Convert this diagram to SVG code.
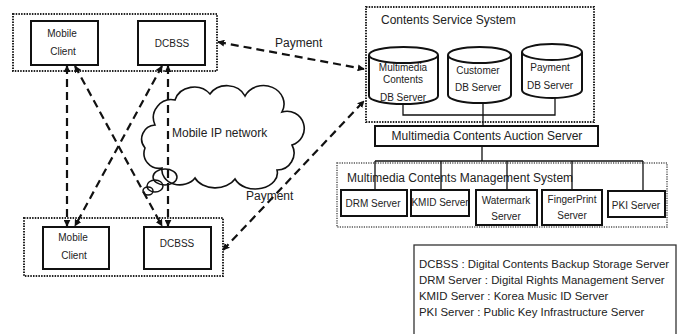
<svg xmlns="http://www.w3.org/2000/svg" width="683" height="334" viewBox="0 0 683 334">
<defs>
<style>
text{font-family:"Liberation Sans",Arial,sans-serif;fill:#222}
.box{fill:#fff;stroke:#111;stroke-width:2}
.grp{fill:none;stroke:#222;stroke-width:2;stroke-dasharray:1.5 1.2}
.grp2{fill:none;stroke:#555;stroke-width:1.5;stroke-dasharray:1.2 1.2}
.dash{fill:none;stroke:#111;stroke-width:2.2;stroke-dasharray:8 5}
.ln{fill:none;stroke:#111;stroke-width:1.3}
.s10{font-size:10px}
.s12{font-size:12px}
.s11{font-size:11.4px}
.mid{text-anchor:middle}
</style>
<marker id="ah" viewBox="0 0 10 10" refX="9" refY="5" markerWidth="7" markerHeight="7" markerUnits="userSpaceOnUse" orient="auto-start-reverse">
<path d="M0,0 L10,5 L0,10 Z" fill="#111"/>
</marker>
</defs>
<rect width="683" height="334" fill="#fff"/>

<g id="cloud">
<path d="M155,125 A18,18 0 0 1 175,100 A20,18 0 0 1 210,94 A20,18 0 0 1 245,96 A20,18 0 0 1 282,112 A17,17 0 0 1 292,145 A17,17 0 0 1 277,170 A22,16 0 0 1 235,179 A22,16 0 0 1 195,178 A18,15 0 0 1 162,168 A15,15 0 0 1 145,148 A14,14 0 0 1 155,125 Z" fill="#fff" stroke="#111" stroke-width="1.6"/>
<ellipse cx="165" cy="177" rx="12" ry="8" fill="none" stroke="#111" stroke-width="1.5"/>
<ellipse cx="155" cy="186" rx="8" ry="6" fill="none" stroke="#111" stroke-width="1.5"/>
<ellipse cx="148" cy="191" rx="5" ry="4" fill="none" stroke="#111" stroke-width="1.5"/>
<text class="s12" x="172" y="137">Mobile IP network</text>
</g>

<g id="top-group">
<rect class="grp" x="13" y="14" width="204" height="57"/>
<g id="mobile-client-top">
<rect class="box" x="31" y="21" width="67" height="44"/>
<text class="s10 mid" x="62" y="37">Mobile</text>
<text class="s10 mid" x="63" y="55">Client</text>
</g>
<g id="dcbss-top">
<rect class="box" x="138" y="21" width="67" height="44"/>
<text class="s10 mid" x="172" y="47">DCBSS</text>
</g>
</g>

<g id="bottom-group">
<rect class="grp" x="24" y="218" width="199" height="58"/>
<g id="mobile-client-bottom">
<rect class="box" x="43" y="227" width="66" height="42"/>
<text class="s10 mid" x="73" y="241">Mobile</text>
<text class="s10 mid" x="74" y="259">Client</text>
</g>
<g id="dcbss-bottom">
<rect class="box" x="144" y="227" width="67" height="42"/>
<text class="s10 mid" x="177" y="247">DCBSS</text>
</g>
</g>

<g id="contents-service-system">
<rect class="grp" x="366" y="7" width="228" height="115"/>
<text class="s12" x="381" y="24">Contents Service System</text>
<g id="mm-db">
<path d="M369,55 L369,96 A34.5,8 0 0 0 438,96 L438,55" fill="#fff" stroke="#111" stroke-width="2"/>
<ellipse cx="403.5" cy="55" rx="34.5" ry="8" fill="#fff" stroke="#111" stroke-width="2"/>
<text class="s10 mid" x="403" y="71">Multimedia</text>
<text class="s10 mid" x="403" y="83">Contents</text>
<text class="s10 mid" x="403" y="101">DB Server</text>
</g>
<g id="customer-db">
<path d="M448,55 L448,95 A31.5,8 0 0 0 511,95 L511,55" fill="#fff" stroke="#111" stroke-width="2"/>
<ellipse cx="479.5" cy="55" rx="31.5" ry="8" fill="#fff" stroke="#111" stroke-width="2"/>
<text class="s10 mid" x="478" y="74">Customer</text>
<text class="s10 mid" x="478" y="91">DB Server</text>
</g>
<g id="payment-db">
<path d="M522,52 L522,90 A30,8 0 0 0 582,90 L582,52" fill="#fff" stroke="#111" stroke-width="2"/>
<ellipse cx="552" cy="52" rx="30" ry="8" fill="#fff" stroke="#111" stroke-width="2"/>
<text class="s10 mid" x="550" y="71">Payment</text>
<text class="s10 mid" x="550" y="89">DB Server</text>
</g>
</g>

<g id="auction-server">
<rect class="box" x="375" y="126" width="223" height="20"/>
<text class="s12 mid" x="487" y="140">Multimedia Contents Auction Server</text>
</g>

<g id="management-system">
<rect class="grp2" x="337" y="163" width="330" height="64"/>
<text class="s12" x="347" y="182" fill="#333">Multimedia Contents Management System</text>
</g>

<g id="connectors">
<path class="ln" d="M403,104 V115 H555 V98 M483,103 V126 M482,146 V161 M375,161 H643 M375,161 V190 M441,161 V190 M507,161 V190 M572,161 V190 M643,161 V191"/>
<line class="dash" x1="67" y1="66" x2="67" y2="226" marker-start="url(#ah)" marker-end="url(#ah)"/>
<line class="dash" x1="168" y1="66" x2="168" y2="226" marker-start="url(#ah)" marker-end="url(#ah)"/>
<line class="dash" x1="75" y1="66" x2="162" y2="226" marker-start="url(#ah)" marker-end="url(#ah)"/>
<line class="dash" x1="162" y1="66" x2="75" y2="226" marker-start="url(#ah)" marker-end="url(#ah)"/>
<line class="dash" x1="218" y1="42" x2="364" y2="69" marker-start="url(#ah)" marker-end="url(#ah)"/>
<line class="dash" x1="223" y1="250" x2="364" y2="101" marker-start="url(#ah)" marker-end="url(#ah)"/>
<text class="s12" x="275" y="47" fill="#333">Payment</text>
<text class="s12" x="246" y="200" fill="#444">Payment</text>
</g>

<g id="drm-server">
<rect class="box" x="341" y="190" width="66" height="26"/>
<text class="s10 mid" x="373" y="207">DRM Server</text>
</g>
<g id="kmid-server">
<rect class="box" x="411" y="190" width="58" height="26"/>
<text class="s10 mid" x="440" y="206">KMID Server</text>
</g>
<g id="watermark-server">
<rect class="box" x="476" y="190" width="61" height="35"/>
<text class="s10 mid" x="506" y="204">Watermark</text>
<text class="s10 mid" x="506" y="220">Server</text>
</g>
<g id="fingerprint-server">
<rect class="box" x="542" y="190" width="60" height="35"/>
<text class="s10 mid" x="572" y="203">FingerPrint</text>
<text class="s10 mid" x="572" y="219">Server</text>
</g>
<g id="pki-server">
<rect class="box" x="608" y="191" width="57" height="26"/>
<text class="s10 mid" x="636" y="209">PKI Server</text>
</g>

<g id="legend">
<rect x="414" y="245" width="262" height="95" fill="#fff" stroke="#333" stroke-width="1.3"/>
<text class="s11" x="419" y="268">DCBSS : Digital Contents Backup Storage Server</text>
<text class="s11" x="419" y="284">DRM Server : Digital Rights Management Server</text>
<text class="s11" x="419" y="300">KMID Server : Korea Music ID Server</text>
<text class="s11" x="419" y="316">PKI Server : Public Key Infrastructure Server</text>
</g>
</svg>
